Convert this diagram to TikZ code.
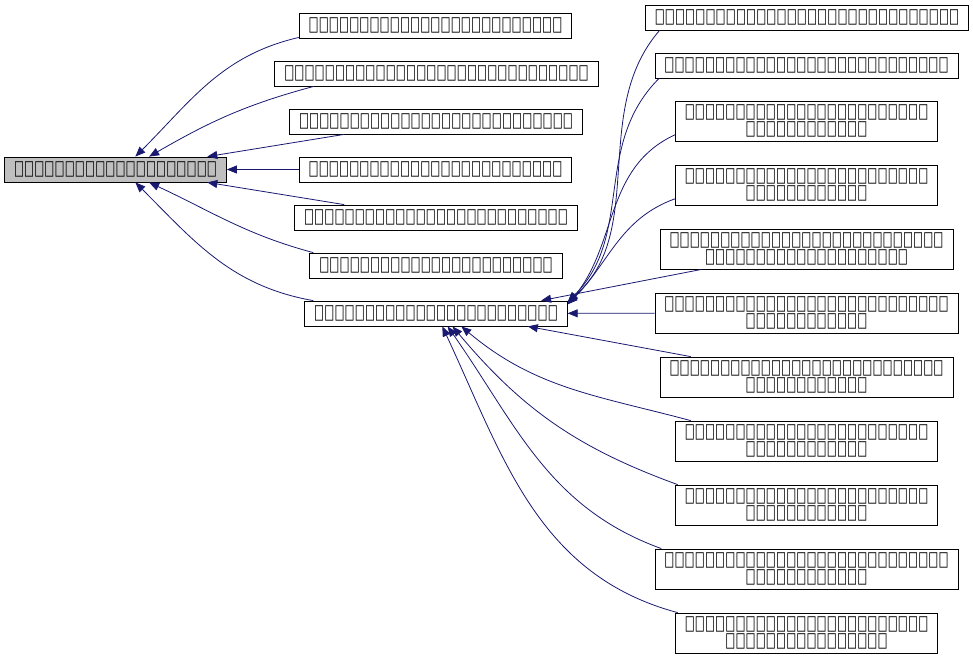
\documentclass[tikz,border=0pt]{standalone}
\usepackage{fontspec}
\setmainfont{DejaVu Sans}
\newfontfamily\boxfont[FakeStretch=0.8,LetterSpace=13]{DejaVu Sans Mono}
\usetikzlibrary{arrows.meta}
\definecolor{edgeblue}{HTML}{191970}
\definecolor{rootgray}{HTML}{BFBFBF}

\begin{document}
\begin{tikzpicture}[x=1pt,y=1pt]

 \tikzset{
    cls/.style={
      draw=black,
      fill=white,
      line width=0.8pt,
      inner xsep=10.5pt,
      inner ysep=0pt,
      minimum height=25pt,
      align=center,
      font=\boxfont\fontsize{16.6}{13}\selectfont
    },
    cls2/.style={cls, minimum height=40pt},
    edge/.style={
      draw=edgeblue,
      line width=0.8pt,
      -{Triangle[length=10pt,width=8pt]}
    }
  }

\useasboundingbox (0,0) rectangle (973,-659);

% base class
\node[cls, fill=rootgray] (root) at (115.5,-169.5) {⎕⎕⎕⎕⎕⎕⎕⎕⎕⎕⎕⎕⎕⎕⎕⎕⎕⎕⎕⎕};

% direct children
\node[cls] (m1) at (435.5,-25.5) {⎕⎕⎕⎕⎕⎕⎕⎕⎕⎕⎕⎕⎕⎕⎕⎕⎕⎕⎕⎕⎕⎕⎕⎕⎕};
\node[cls] (m2) at (436.5,-73.5) {⎕⎕⎕⎕⎕⎕⎕⎕⎕⎕⎕⎕⎕⎕⎕⎕⎕⎕⎕⎕⎕⎕⎕⎕⎕⎕⎕⎕⎕⎕};
\node[cls] (m3) at (436,-121.5) {⎕⎕⎕⎕⎕⎕⎕⎕⎕⎕⎕⎕⎕⎕⎕⎕⎕⎕⎕⎕⎕⎕⎕⎕⎕⎕⎕};
\node[cls] (m4) at (435.5,-169.5) {⎕⎕⎕⎕⎕⎕⎕⎕⎕⎕⎕⎕⎕⎕⎕⎕⎕⎕⎕⎕⎕⎕⎕⎕⎕};
\node[cls] (m5) at (436,-217.5) {⎕⎕⎕⎕⎕⎕⎕⎕⎕⎕⎕⎕⎕⎕⎕⎕⎕⎕⎕⎕⎕⎕⎕⎕⎕⎕};
\node[cls] (m6) at (436,-265.5) {⎕⎕⎕⎕⎕⎕⎕⎕⎕⎕⎕⎕⎕⎕⎕⎕⎕⎕⎕⎕⎕⎕⎕};
\node[cls] (hub) at (436,-313.5) {⎕⎕⎕⎕⎕⎕⎕⎕⎕⎕⎕⎕⎕⎕⎕⎕⎕⎕⎕⎕⎕⎕⎕⎕};

% children of hub
\node[cls] (r1) at (807,-17.5) {⎕⎕⎕⎕⎕⎕⎕⎕⎕⎕⎕⎕⎕⎕⎕⎕⎕⎕⎕⎕⎕⎕⎕⎕⎕⎕⎕⎕⎕⎕};
\node[cls] (r2) at (806.5,-65.5) {⎕⎕⎕⎕⎕⎕⎕⎕⎕⎕⎕⎕⎕⎕⎕⎕⎕⎕⎕⎕⎕⎕⎕⎕⎕⎕⎕⎕};
\node[cls2] (r3) at (806.5,-121) {⎕⎕⎕⎕⎕⎕⎕⎕⎕⎕⎕⎕⎕⎕⎕⎕⎕⎕⎕⎕⎕⎕⎕⎕\\⎕⎕⎕⎕⎕⎕⎕⎕⎕⎕⎕⎕};
\node[cls2] (r4) at (806.5,-185) {⎕⎕⎕⎕⎕⎕⎕⎕⎕⎕⎕⎕⎕⎕⎕⎕⎕⎕⎕⎕⎕⎕⎕⎕\\⎕⎕⎕⎕⎕⎕⎕⎕⎕⎕⎕⎕};
\node[cls2] (r5) at (806.5,-249) {⎕⎕⎕⎕⎕⎕⎕⎕⎕⎕⎕⎕⎕⎕⎕⎕⎕⎕⎕⎕⎕⎕⎕⎕⎕⎕⎕\\⎕⎕⎕⎕⎕⎕⎕⎕⎕⎕⎕⎕⎕⎕⎕⎕⎕⎕⎕⎕};
\node[cls2] (r6) at (806.5,-313) {⎕⎕⎕⎕⎕⎕⎕⎕⎕⎕⎕⎕⎕⎕⎕⎕⎕⎕⎕⎕⎕⎕⎕⎕⎕⎕⎕⎕\\⎕⎕⎕⎕⎕⎕⎕⎕⎕⎕⎕⎕};
\node[cls2] (r7) at (806.5,-377) {⎕⎕⎕⎕⎕⎕⎕⎕⎕⎕⎕⎕⎕⎕⎕⎕⎕⎕⎕⎕⎕⎕⎕⎕⎕⎕⎕\\⎕⎕⎕⎕⎕⎕⎕⎕⎕⎕⎕⎕};
\node[cls2] (r8) at (806.5,-441) {⎕⎕⎕⎕⎕⎕⎕⎕⎕⎕⎕⎕⎕⎕⎕⎕⎕⎕⎕⎕⎕⎕⎕⎕\\⎕⎕⎕⎕⎕⎕⎕⎕⎕⎕⎕⎕};
\node[cls2] (r9) at (806.5,-505) {⎕⎕⎕⎕⎕⎕⎕⎕⎕⎕⎕⎕⎕⎕⎕⎕⎕⎕⎕⎕⎕⎕⎕⎕\\⎕⎕⎕⎕⎕⎕⎕⎕⎕⎕⎕⎕};
\node[cls2] (r10) at (806.5,-569) {⎕⎕⎕⎕⎕⎕⎕⎕⎕⎕⎕⎕⎕⎕⎕⎕⎕⎕⎕⎕⎕⎕⎕⎕⎕⎕⎕⎕\\⎕⎕⎕⎕⎕⎕⎕⎕⎕⎕⎕⎕};
\node[cls2] (r11) at (806.5,-633) {⎕⎕⎕⎕⎕⎕⎕⎕⎕⎕⎕⎕⎕⎕⎕⎕⎕⎕⎕⎕⎕⎕⎕⎕\\⎕⎕⎕⎕⎕⎕⎕⎕⎕⎕⎕⎕⎕⎕⎕⎕};

% inheritance arrows to base
\draw[edge] (m1.185) to[out=193,in=45] (root.33);
\draw[edge] (m2.186) to[out=195,in=30] (root.21);
\draw[edge] (m3.188) -- (root.8.5);
\draw[edge] (m4) -- (root);
\draw[edge] (m5.172) -- (root.-8);
\draw[edge] (m6.174) to[out=165,in=-25] (root.-21);
\draw[edge] (hub.174) to[out=170,in=-45] (root.-33);

% inheritance arrows to hub
\draw[edge] (r1.185) to[out=229,in=41,looseness=0.95] (hub.5.5);
\draw[edge] (r2.185) to[out=225,in=45] (hub.5);
\draw[edge] (r3.186) to[out=205,in=50] (hub.4.5);
\draw[edge] (r4.186) to[out=200,in=45] (hub.4);
\draw[edge] (r5.191) -- (hub.7.6);
\draw[edge] (r6) -- (hub);
\draw[edge] (r7.170) -- (hub.-8.8);
\draw[edge] (r8.170) to[out=165,in=-40] (hub.-27.5);
\draw[edge] (r9.171) to[out=160,in=-50] (hub.-38);
\draw[edge] (r10.172) to[out=160,in=-55] (hub.-48.7);
\draw[edge] (r11.171) to[out=165,in=-65] (hub.-64);
\end{tikzpicture}
\end{document}
